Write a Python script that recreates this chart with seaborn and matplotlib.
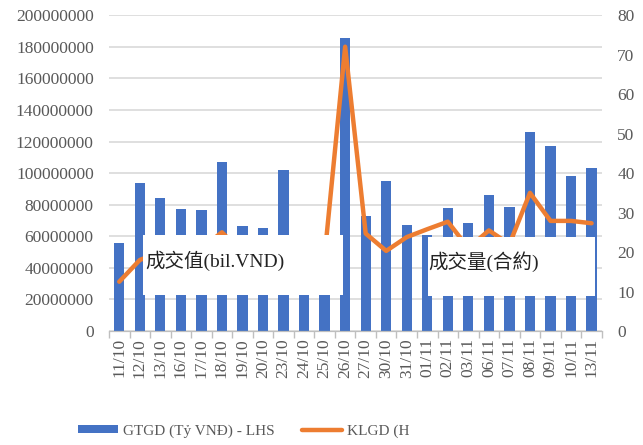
import numpy as np
import pandas as pd
import seaborn as sns
from matplotlib import pyplot as plt
from matplotlib.patches import Rectangle
from matplotlib.ticker import FuncFormatter, MultipleLocator, FixedLocator

# trading days
dates = ["11/10", "12/10", "13/10", "16/10", "17/10", "18/10", "19/10", "20/10",
         "23/10", "24/10", "25/10", "26/10", "27/10", "30/10", "31/10", "01/11",
         "02/11", "03/11", "06/11", "07/11", "08/11", "09/11", "10/11", "13/11"]
# trading value (left axis)
value = [56e6, 93.5e6, 84e6, 77.2e6, 76.8e6, 106.8e6, 66.5e6, 65.4e6,
         101.7e6, 45e6, 50e6, 185.6e6, 72.8e6, 95.1e6, 67.3e6, 61e6,
         77.6e6, 68.1e6, 86.3e6, 78.7e6, 126.1e6, 117.1e6, 98.3e6, 103.2e6]
# trading volume (right axis)
volume = [12.5, 18, 20, 19, 21, 25, 20, 18,
          21, 17, 19, 72, 24.7, 20.3, 23.8, 25.8,
          27.7, 21, 25.5, 22, 35, 27.9, 27.9, 27.3]

df = pd.DataFrame({"date": dates, "value": value, "volume": volume})
df["pos"] = np.arange(len(df))

grey = "#595959"
plt.rcParams["font.family"] = ["Liberation Serif", "Noto Sans CJK TC"]

fig = plt.figure(figsize=(6.43, 4.45), dpi=100)
ax = fig.add_axes([0.1695, 0.256, 0.7665, 0.71])
ax2 = ax.twinx()

sns.barplot(data=df, x="date", y="value", color="#4472C4", width=0.5,
            saturation=1, ax=ax, label="GTGD (Tỷ VNĐ) - LHS")
sns.lineplot(data=df, x="pos", y="volume", color="#ED7D31", linewidth=3.2,
             ax=ax2, label="KLGD (H", solid_joinstyle="round", solid_capstyle="round")

# left axis
ax.set_ylim(0, 200e6)
ax.yaxis.set_major_locator(MultipleLocator(20e6))
ax.yaxis.set_major_formatter(FuncFormatter(lambda v, p: f"{int(round(v))}"))
ax.grid(axis="y", color="#D9D9D9", linewidth=1.2)
ax.set_axisbelow(True)
ax.set_xlim(-0.5, len(dates) - 0.5)
ax.set_xlabel("")
ax.set_ylabel("")
ax.tick_params(axis="y", length=0, pad=11, labelsize=12.5, labelcolor=grey)
ax.tick_params(axis="x", which="major", length=0, pad=5, labelsize=12.5,
               labelcolor=grey, labelrotation=90)
ax.xaxis.set_minor_locator(FixedLocator(np.arange(-0.5, len(dates), 1.0)))
ax.tick_params(axis="x", which="minor", length=5, color="#BFBFBF", width=1)

# right axis
ax2.set_ylim(0, 80)
ax2.yaxis.set_major_locator(MultipleLocator(10))
ax2.set_ylabel("")
ax2.tick_params(axis="y", length=0, pad=11, labelsize=12.5, labelcolor=grey)

for a in (ax, ax2):
    for s in ("top", "left", "right"):
        a.spines[s].set_visible(False)
    a.spines["bottom"].set_color("#BFBFBF")

# legend at the bottom
h1, l1 = ax.get_legend_handles_labels()
h2, l2 = ax2.get_legend_handles_labels()
for a in (ax, ax2):
    if a.get_legend():
        a.get_legend().remove()
fig.legend(h1 + h2, l1 + l2, loc="center", bbox_to_anchor=(0.379, 0.031), ncol=2,
           frameon=False, prop={"family": "Liberation Serif", "size": 11},
           handlelength=2.6, handleheight=0.45, handletextpad=0.35,
           columnspacing=1.8, labelcolor=grey)

# white label boxes over the plot
fig.add_artist(Rectangle((0.2224, 0.337), 0.311, 0.135, transform=fig.transFigure,
                         facecolor="white", edgecolor="none", zorder=10))
fig.text(0.2255, 0.4135, "成交值(bil.VND)", fontsize=14, va="center", color="#222222", zorder=11)
fig.add_artist(Rectangle((0.6656, 0.335), 0.2597, 0.133, transform=fig.transFigure,
                         facecolor="white", edgecolor="none", zorder=10))
fig.text(0.6656, 0.4112, "成交量(合約)", fontsize=14, va="center", color="#222222", zorder=11)

plt.savefig("out.png", dpi=100)
